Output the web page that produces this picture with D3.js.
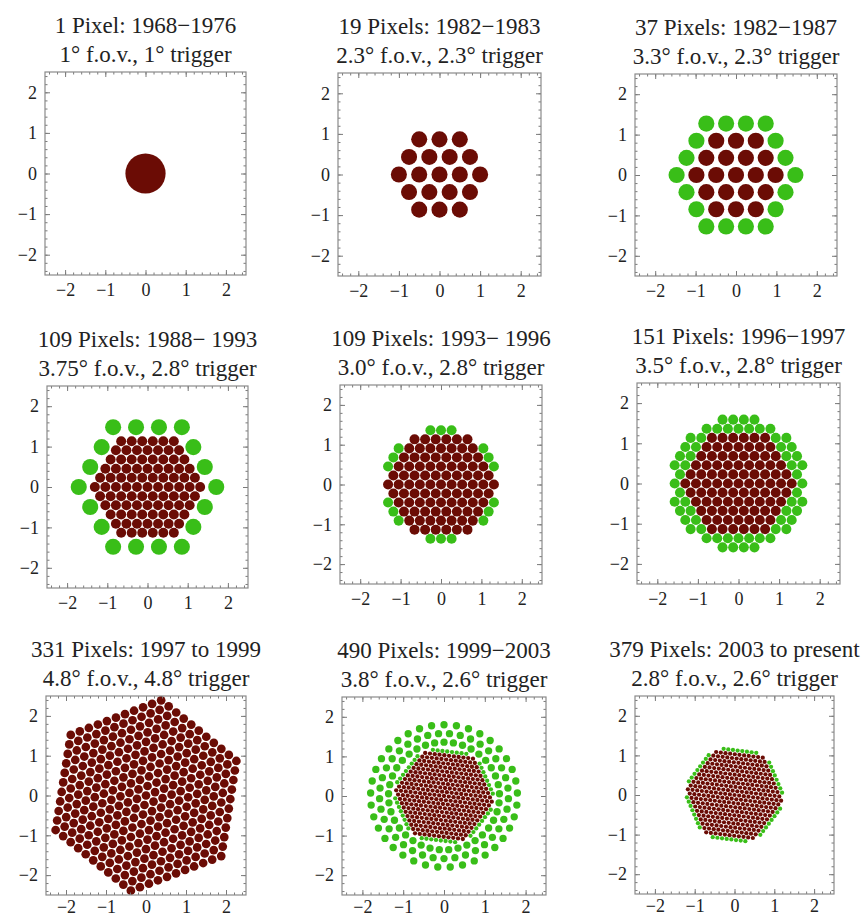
<!DOCTYPE html>
<html>
<head>
<meta charset="utf-8">
<script src="https://cdn.jsdelivr.net/npm/d3@7/dist/d3.min.js"></script>
<style>
  html, body { margin: 0; padding: 0; background: #fff; }
  svg { display: block; }
  .title { font-family: "Liberation Serif", "Times New Roman", serif; font-size: 23px; fill: #222; text-anchor: middle; }
  .tick text { font-family: "Liberation Serif", "Times New Roman", serif; font-size: 18px; fill: #222; }
  .tick line { stroke: #7a7a7a; }
</style>
</head>
<body>
<svg id="chart" width="862" height="918"></svg>
<script>
// Whipple camera generations, one panel each
const titles = [
  "1 Pixel: 1968\u22121976",
  "19 Pixels: 1982\u22121983",
  "37 Pixels: 1982\u22121987",
  "109 Pixels: 1988\u2212 1993",
  "109 Pixels: 1993\u2212 1996",
  "151 Pixels: 1996\u22121997",
  "331 Pixels: 1997 to 1999",
  "490 Pixels: 1999\u22122003",
  "379 Pixels: 2003 to present"
];
const subtitles = [
  "1\u00b0 f.o.v., 1\u00b0 trigger",
  "2.3\u00b0 f.o.v., 2.3\u00b0 trigger",
  "3.3\u00b0 f.o.v., 2.3\u00b0 trigger",
  "3.75\u00b0 f.o.v., 2.8\u00b0 trigger",
  "3.0\u00b0 f.o.v., 2.8\u00b0 trigger",
  "3.5\u00b0 f.o.v., 2.8\u00b0 trigger",
  "4.8\u00b0 f.o.v., 4.8\u00b0 trigger",
  "3.8\u00b0 f.o.v., 2.6\u00b0 trigger",
  "2.8\u00b0 f.o.v., 2.6\u00b0 trigger"
];
const axisTicks = [-2, -1, 0, 1, 2];
const axisDomain = [-2.5, 2.5];

// Hexagonal pixel groups per camera (angles in degrees):
// [first ring, last ring, pitch, PMT radius, rotation, pixels dropped at each side end, role]
const hexGroups = [
  [[0, 0, 0, 0.5, 0, 0, "trigger"]],
  [[0, 2, 0.5, 0.198, 0, 0, "trigger"]],
  [[3, 3, 0.49, 0.2, 0, 0, "outer"], [0, 2, 0.49, 0.2, 0, 0, "trigger"]],
  [[3, 3, 0.57, 0.2, 0, 0, "outer"], [0, 5, 0.262, 0.124, 0, 0, "trigger"]],
  [[6, 6, 0.262, 0.124, 0, 2, "outer"], [0, 5, 0.262, 0.124, 0, 0, "trigger"]],
  [[6, 6, 0.262, 0.124, 0, 0, "outer"], [7, 7, 0.262, 0.124, 0, 2, "outer"], [0, 5, 0.262, 0.124, 0, 0, "trigger"]],
  [[0, 10, 0.242, 0.109, 21, 0, "trigger"]],
  [[11, 11, 0.118, 0.053, -7, 2, "outer"], [0, 10, 0.118, 0.053, -7, 0, "trigger"]],
  [[11, 11, 0.118, 0.053, -7, 2, "outer"], [0, 10, 0.118, 0.053, -7, 0, "trigger"]]
];
// Concentric rings of larger outer PMTs: [panel, ring radius, PMT count, half-step phase, PMT radius]
const ringGroups = [
  [7, 1.36, 37, 0, 0.09],
  [7, 1.58, 37, 0.5, 0.09],
  [7, 1.80, 37, 0, 0.09]
];
const roleColor = { trigger: "#6b0c05", outer: "#39be18" };

// Frame placement of the nine panels
const frameLeft = [45, 338, 635, 47, 340, 637, 46, 342, 635];
const frameTop  = [72, 73, 74, 386, 385, 383, 696, 697, 696];
const frameWidth  = [201, 203, 202, 201, 202, 203, 200, 204, 199];
const frameHeight = [203, 203, 202, 202, 199, 201, 199, 198, 198];

function hexRing(n, pitch, rotDeg, trim) {
  if (n === 0) return [[0, 0]];
  const rot = rotDeg * Math.PI / 180, pts = [];
  for (let j = 0; j < 6; j++) {
    const a0 = j * Math.PI / 3, a1 = (j + 1) * Math.PI / 3;
    const x0 = n * pitch * Math.cos(a0), y0 = n * pitch * Math.sin(a0);
    const x1 = n * pitch * Math.cos(a1), y1 = n * pitch * Math.sin(a1);
    for (let k = 0; k < n; k++) {
      if (k < trim || k > n - trim) continue;
      const t = k / n, x = x0 + t * (x1 - x0), y = y0 + t * (y1 - y0);
      pts.push([x * Math.cos(rot) - y * Math.sin(rot), x * Math.sin(rot) + y * Math.cos(rot)]);
    }
  }
  return pts;
}

const svg = d3.select("#chart");

titles.forEach((title, i) => {
  const W = frameWidth[i], H = frameHeight[i];
  const g = svg.append("g").attr("transform", `translate(${frameLeft[i]},${frameTop[i]})`);
  const x = d3.scaleLinear().domain(axisDomain).range([0, W]);
  const y = d3.scaleLinear().domain(axisDomain).range([H, 0]);

  g.append("text").attr("class", "title").attr("x", W / 2).attr("y", -39).text(title);
  g.append("text").attr("class", "title").attr("x", W / 2).attr("y", -10).text(subtitles[i]);

  g.append("clipPath").attr("id", "clip" + i)
    .append("rect").attr("width", W).attr("height", H);
  const plot = g.append("g").attr("clip-path", `url(#clip${i})`);

  // pixels: outer PMT rings first, trigger pixels on top
  const pixels = [];
  ringGroups.filter(r => r[0] === i).forEach(([, rad, count, phase, pr]) => {
    for (let k = 0; k < count; k++) {
      const a = Math.PI / 2 + (k + phase) * 2 * Math.PI / count;
      pixels.push({ x: rad * Math.cos(a), y: rad * Math.sin(a), r: pr, role: "outer" });
    }
  });
  hexGroups[i].forEach(([r0, r1, pitch, pr, rot, trim, role]) => {
    for (let n = r0; n <= r1; n++) {
      hexRing(n, pitch, rot, trim).forEach(([px, py]) => pixels.push({ x: px, y: py, r: pr, role }));
    }
  });
  const ord = { outer: 0, trigger: 1 };
  pixels.sort((a, b) => ord[a.role] - ord[b.role]);
  plot.selectAll("circle").data(pixels).join("circle")
    .attr("cx", d => x(d.x)).attr("cy", d => y(d.y))
    .attr("r", d => x(d.r) - x(0))
    .attr("fill", d => roleColor[d.role]);

  // frame ticks (minor, then major with labels on left and bottom)
  const minor = x.ticks(25);
  const bottomPad = i >= 6 ? 5 : 8;
  const sides = [
    [d3.axisBottom(x), `translate(0,${H})`, bottomPad],
    [d3.axisLeft(y), null, 8],
    [d3.axisTop(x), null, -1],
    [d3.axisRight(y), `translate(${W},0)`, -1]
  ];
  sides.forEach(([ax, tr, pad]) => {
    const gm = g.append("g").call(ax.tickValues(minor).tickSize(-2.5).tickFormat(""));
    if (tr) gm.attr("transform", tr);
    gm.select(".domain").remove();
    const gM = g.append("g").call(ax.tickValues(axisTicks).tickSize(-5)
      .tickPadding(Math.max(pad, 0))
      .tickFormat(pad >= 0 ? d3.format("d") : ""));
    if (tr) gM.attr("transform", tr);
    gM.select(".domain").remove();
  });
  g.append("rect").attr("width", W).attr("height", H)
    .attr("fill", "none").attr("stroke", "#8a8a8a").attr("stroke-width", 1.2);
});
</script>
</body>
</html>
